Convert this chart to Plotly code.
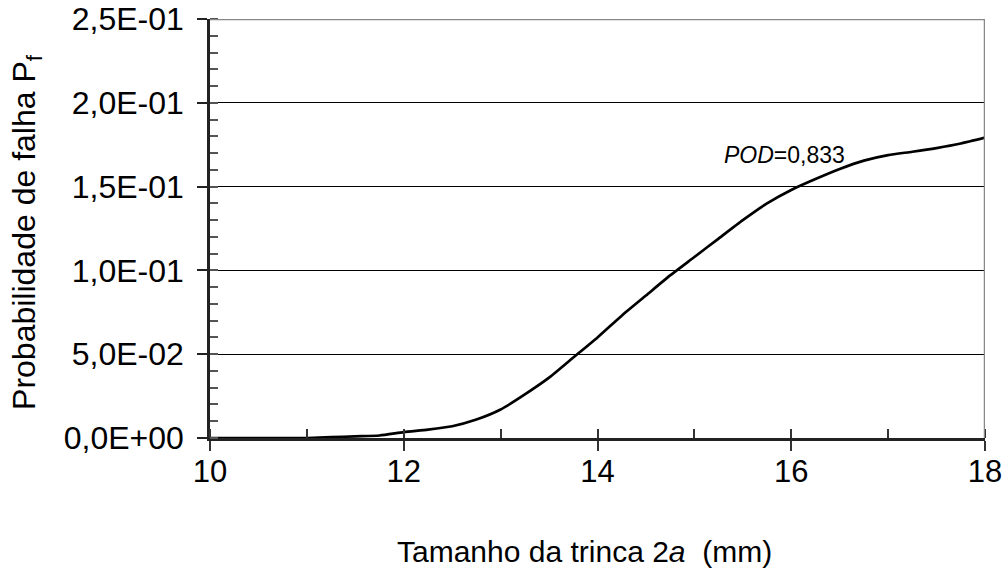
import plotly.graph_objects as go

crack_size = [10.0, 10.5, 11.0, 11.25, 11.5, 11.75, 12.0, 12.25, 12.5, 12.75, 13.0, 13.25, 13.5, 13.75,
              14.0, 14.25, 14.5, 14.75, 15.0, 15.25, 15.5, 15.75, 16.0, 16.25, 16.5, 16.75, 17.0,
              17.25, 17.5, 17.75, 18.0]
prob_failure = [0.0, 0.0, 0.0, 0.0005, 0.001, 0.0015, 0.0035, 0.005, 0.007, 0.011, 0.017, 0.026,
                0.036, 0.048, 0.060, 0.073, 0.085, 0.097, 0.108, 0.119, 0.130, 0.140, 0.148,
                0.1545, 0.1605, 0.1655, 0.1688, 0.1708, 0.173, 0.1757, 0.1792]
y_tick_vals = [0.0, 0.05, 0.10, 0.15, 0.20, 0.25]
y_tick_text = ["0,0E+00", "5,0E-02", "1,0E-01", "1,5E-01", "2,0E-01", "2,5E-01"]
x_tick_vals = [10, 12, 14, 16, 18]
annotation_text = "<i>POD</i>=0,833"
x_title = "Tamanho da trinca 2<i>a</i>  (mm)"
y_title = "Probabilidade de falha P<sub>f</sub>"

font_family = "Liberation Sans, Arial, sans-serif"

fig = go.Figure()
fig.add_trace(go.Scatter(x=crack_size, y=prob_failure, mode="lines",
                         line=dict(color="black", width=2.7, shape="spline", smoothing=0.6),
                         showlegend=False))

fig.add_annotation(x=15.93, y=0.169, text=annotation_text, showarrow=False,
                   font=dict(family=font_family, size=23, color="black"))

# axis titles
fig.add_annotation(xref="paper", yref="paper", x=0.4832, y=-0.2697, xanchor="center", yanchor="middle",
                   text=x_title, showarrow=False, font=dict(family=font_family, size=30, color="black"))
fig.add_annotation(xref="paper", yref="paper", x=-0.236, y=0.492, xanchor="center", yanchor="middle",
                   text=y_title, textangle=-90, showarrow=False,
                   font=dict(family=font_family, size=32, color="black"))

# gray top/right border
fig.add_shape(type="line", xref="x", yref="y", x0=10, x1=18, y0=0.25, y1=0.25,
              line=dict(color="#888888", width=2.5), layer="above")
fig.add_shape(type="line", xref="x", yref="y", x0=18, x1=18, y0=0, y1=0.25,
              line=dict(color="#888888", width=2.5), layer="above")

fig.update_layout(
    width=1005, height=569,
    margin=dict(l=210, r=20, t=19, b=131),
    plot_bgcolor="white", paper_bgcolor="white",
    font=dict(family=font_family, color="black"),
    xaxis=dict(
        range=[10, 18], tickvals=x_tick_vals, ticks="outside", ticklen=10, tickwidth=1.5,
        tickcolor="#333333", showgrid=False, zeroline=False, automargin=False,
        showline=True, linecolor="#222222", linewidth=2.5,
        tickfont=dict(size=31, family=font_family), ticklabelstandoff=-6,
        minor=dict(dtick=1, tick0=10, ticks="inside", ticklen=9, tickwidth=1.5, tickcolor="#333333", showgrid=False),
    ),
    yaxis=dict(
        range=[0, 0.25], tickvals=y_tick_vals, ticktext=y_tick_text, ticks="outside", ticklen=10,
        tickwidth=1.5, tickcolor="#222222", automargin=False,
        showgrid=True, gridcolor="black", gridwidth=1.2, zeroline=False,
        showline=True, linecolor="#222222", linewidth=2.5,
        tickfont=dict(size=32, family=font_family), ticklabelstandoff=7,
        minor=dict(dtick=0.01, tick0=0, ticks="inside", ticklen=8, tickwidth=1.5, tickcolor="#555555", showgrid=False),
    ),
)

fig.write_html("out.html", config={"displayModeBar": False},
               post_script="document.body.style.margin='0';document.body.style.overflow='hidden';")
